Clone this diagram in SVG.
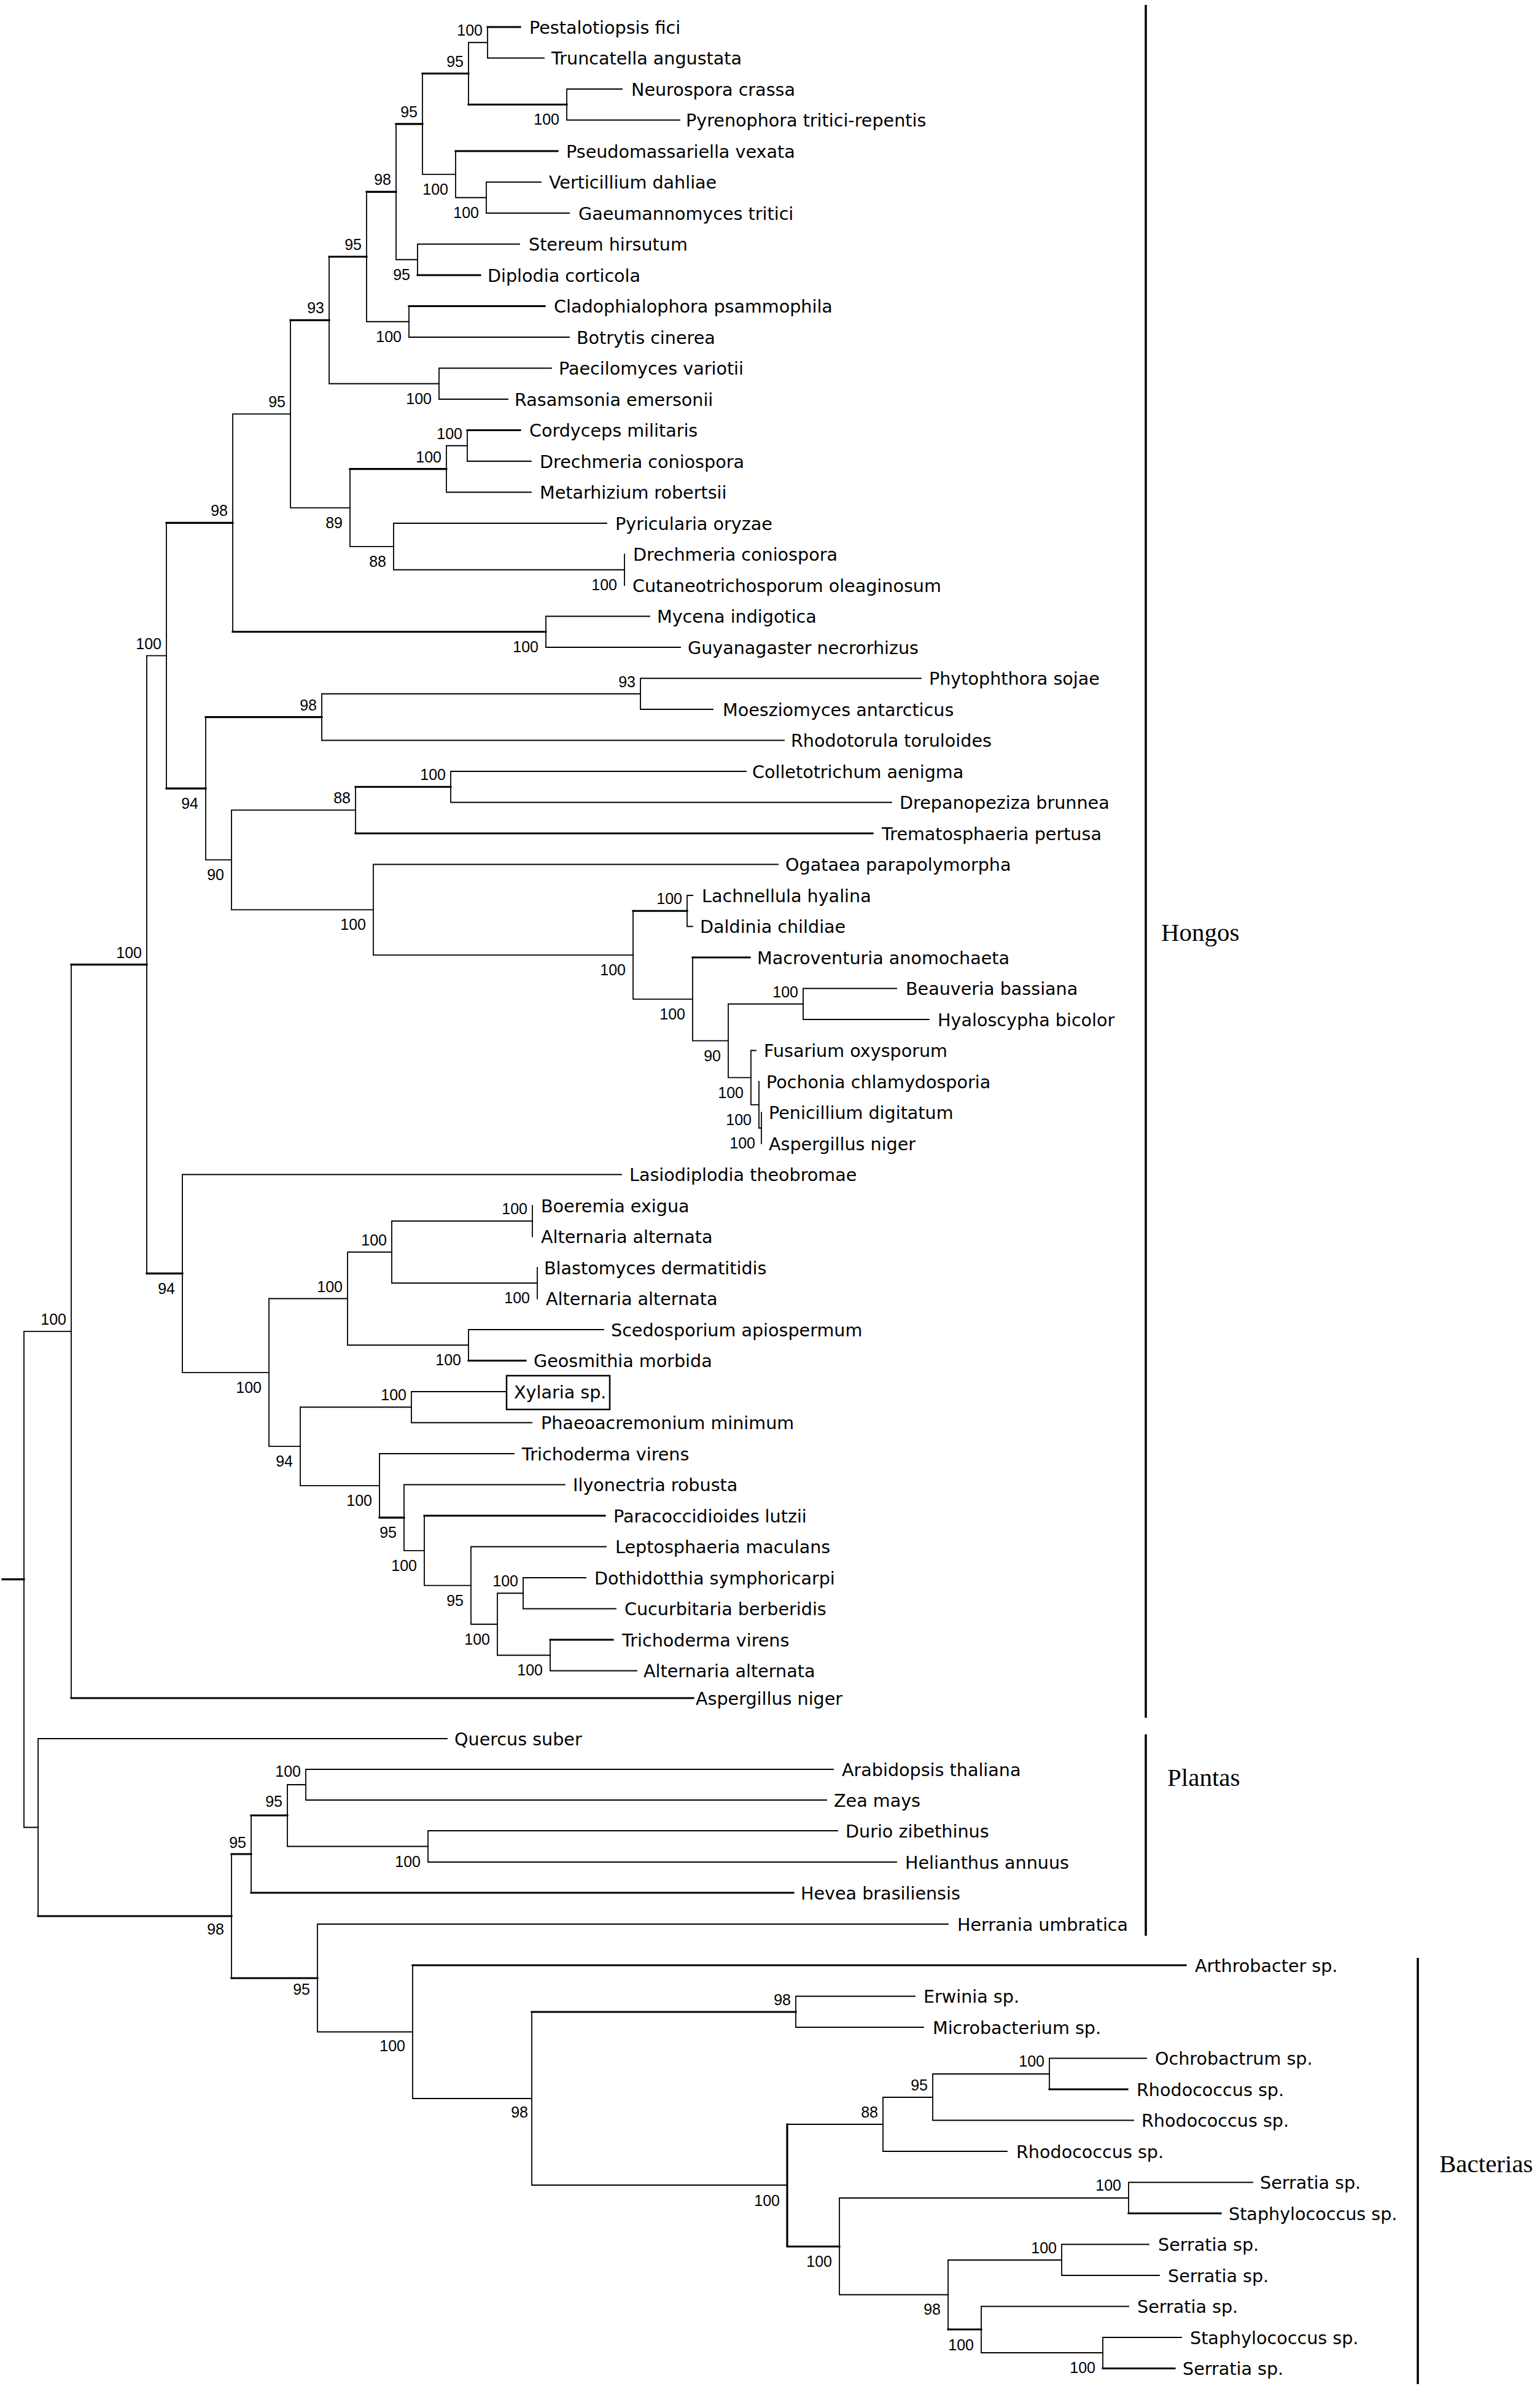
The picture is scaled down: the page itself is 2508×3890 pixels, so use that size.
<svg xmlns="http://www.w3.org/2000/svg" width="2508" height="3890" viewBox="0 0 2508 3890">
<style>
.l{stroke:#000;stroke-width:1.8;fill:none;stroke-linecap:square}
.b{stroke-width:3.2}
.bar{stroke:#000;stroke-width:3.5;fill:none}
.t{font-family:"DejaVu Sans",sans-serif;font-size:28.6px;fill:#000}
.s{font-family:"Liberation Sans",Arial,sans-serif;font-size:25px;fill:#000;text-anchor:end}
.g{font-family:"Liberation Serif","Times New Roman",serif;font-size:41px;fill:#000}
</style>
<rect width="2508" height="3890" fill="#fff"/>
<g id="connectors">
<path class="l b" d="M4 2571.7H39"/>
<path class="l" d="M39 2167.8V2975.5M39 2167.8H116M39 2975.5H62"/>
<path class="l" d="M116 1570.6V2765"/><path class="l b" d="M116 2765H1129M116 1570.6H239"/>
<path class="l" d="M239 1067.6V2073.7M239 1067.6H271"/><path class="l b" d="M239 2073.7H297"/>
<path class="l" d="M271 851.4V1283.9"/><path class="l b" d="M271 851.4H379M271 1283.9H335"/>
<path class="l" d="M379 674.1V1028.75M379 674.1H473"/><path class="l b" d="M379 1028.75H889"/>
<path class="l" d="M473 521.4V826.8M473 826.8H570"/><path class="l b" d="M473 521.4H536"/>
<path class="l" d="M536 418V624.75M536 624.75H715"/><path class="l b" d="M536 418H597"/>
<path class="l" d="M597 312.3V523.75M597 523.75H666"/><path class="l b" d="M597 312.3H645"/>
<path class="l" d="M645 201.8V422.75M645 422.75H680"/><path class="l b" d="M645 201.8H688"/>
<path class="l" d="M688 119.75V283.9M688 283.9H742"/><path class="l b" d="M688 119.75H763"/>
<path class="l" d="M763 69.25V170.25M763 69.25H794"/><path class="l b" d="M763 170.25H923"/>
<path class="l" d="M794 44V94.5M794 94.5H886"/><path class="l b" d="M794 44H847"/>
<path class="l" d="M923 145V195.5M923 145H1013M923 195.5H1107"/>
<path class="l" d="M742 246V321.75M742 321.75H792"/><path class="l b" d="M742 246H908"/>
<path class="l" d="M792 296.5V347M792 296.5H881M792 347H927"/>
<path class="l" d="M680 397.5V448M680 397.5H846"/><path class="l b" d="M680 448H782"/>
<path class="l" d="M666 498.5V549M666 549H927"/><path class="l b" d="M666 498.5H887"/>
<path class="l" d="M715 599.5V650M715 599.5H898M715 650H827"/>
<path class="l" d="M570 763.6V889.9M570 889.9H641"/><path class="l b" d="M570 763.6H727"/>
<path class="l" d="M727 725.75V801.5M727 725.75H761M727 801.5H865"/>
<path class="l" d="M761 700.5V751M761 751H865"/><path class="l b" d="M761 700.5H847"/>
<path class="l" d="M641 852V927.75M641 852H988M641 927.75H1017"/>
<path class="l" d="M1017 902.5V953"/>
<path class="l" d="M889 1003.5V1054M889 1003.5H1058M889 1054H1108"/>
<path class="l" d="M335 1167.6V1400.2M335 1400.2H377"/><path class="l b" d="M335 1167.6H524"/>
<path class="l" d="M524 1129.75V1205.5M524 1129.75H1043M524 1205.5H1277"/>
<path class="l" d="M1043 1104.5V1155M1043 1104.5H1500M1043 1155H1161"/>
<path class="l" d="M377 1319.1V1481.3M377 1319.1H579M377 1481.3H608"/>
<path class="l" d="M579 1281.25V1357"/><path class="l b" d="M579 1281.25H734M579 1357H1421"/>
<path class="l" d="M734 1256V1306.5M734 1256H1215M734 1306.5H1452"/>
<path class="l" d="M608 1407.5V1555.1M608 1407.5H1267M608 1555.1H1031"/>
<path class="l" d="M1031 1483.25V1626.9M1031 1626.9H1128"/><path class="l b" d="M1031 1483.25H1119"/>
<path class="l" d="M1119 1458V1508.5M1119 1458H1128M1119 1508.5H1128"/>
<path class="l" d="M1128 1559V1694.7M1128 1694.7H1186"/><path class="l b" d="M1128 1559H1221"/>
<path class="l" d="M1186 1634.75V1754.7M1186 1634.75H1308M1186 1754.7H1223"/>
<path class="l" d="M1308 1609.5V1660M1308 1609.5H1460M1308 1660H1513"/>
<path class="l" d="M1223 1710.5V1798.9M1223 1710.5H1231M1223 1798.9H1236"/>
<path class="l" d="M1236 1761V1836.75M1236 1836.75H1240"/>
<path class="l" d="M1240 1811.5V1862"/>
<path class="l" d="M297 1912.5V2234.9M297 1912.5H1012M297 2234.9H438"/>
<path class="l" d="M438 2114.5V2355.2M438 2114.5H566M438 2355.2H489"/>
<path class="l" d="M566 2038.75V2190.25M566 2038.75H638M566 2190.25H763"/>
<path class="l" d="M638 1988.25V2089.25M638 1988.25H867M638 2089.25H875"/>
<path class="l" d="M867 1963V2013.5"/>
<path class="l" d="M875 2064V2114.5"/>
<path class="l" d="M763 2165V2215.5M763 2165H983"/><path class="l b" d="M763 2215.5H856"/>
<path class="l" d="M489 2291.25V2419.1M489 2291.25H670M489 2419.1H618"/>
<path class="l" d="M670 2266V2316.5M670 2266H825M670 2316.5H866"/>
<path class="l" d="M618 2367V2471.2M618 2367H837"/><path class="l b" d="M618 2471.2H658"/>
<path class="l" d="M658 2417.5V2524.8M658 2417.5H920M658 2524.8H691"/>
<path class="l" d="M691 2468V2581.6M691 2581.6H767"/><path class="l b" d="M691 2468H985"/>
<path class="l" d="M767 2518.5V2644.75M767 2518.5H987M767 2644.75H810"/>
<path class="l" d="M810 2594.25V2695.25M810 2594.25H852M810 2695.25H896"/>
<path class="l" d="M852 2569V2619.5M852 2569H954M852 2619.5H1003"/>
<path class="l" d="M896 2670V2720.5M896 2720.5H1037"/><path class="l b" d="M896 2670H998"/>
<path class="l" d="M62 2831V3120M62 2831H728"/><path class="l b" d="M62 3120H377"/>
<path class="l" d="M377 3019V3221"/><path class="l b" d="M377 3019H409M377 3221H517"/>
<path class="l" d="M409 2956V3082"/><path class="l b" d="M409 2956H468M409 3082H1292"/>
<path class="l" d="M468 2906V3006.5M468 2906H498M468 3006.5H697"/>
<path class="l" d="M498 2881V2931M498 2881H1357M498 2931H1346"/>
<path class="l" d="M697 2981V3032M697 2981H1364M697 3032H1460"/>
<path class="l" d="M517 3133V3308.5M517 3133H1544M517 3308.5H672"/>
<path class="l" d="M672 3200V3417M672 3417H866"/><path class="l b" d="M672 3200H1931"/>
<path class="l" d="M866 3276V3558M866 3558H1282"/><path class="l b" d="M866 3276H1296"/>
<path class="l" d="M1296 3250.5V3301M1296 3250.5H1490M1296 3301H1504"/>
<path class="l" d="M1282 3459H1438"/><path class="l b" d="M1282 3459V3658M1282 3658H1367"/>
<path class="l" d="M1438 3415V3503M1438 3415H1519M1438 3503H1640"/>
<path class="l" d="M1519 3377V3452.5M1519 3377H1709M1519 3452.5H1846"/>
<path class="l" d="M1709 3351.5V3402M1709 3351.5H1867"/><path class="l b" d="M1709 3402H1836"/>
<path class="l" d="M1367 3579V3736.5M1367 3579H1838M1367 3736.5H1544"/>
<path class="l" d="M1838 3553.5V3604M1838 3553.5H2040"/><path class="l b" d="M1838 3604H1988"/>
<path class="l" d="M1544 3680V3793M1544 3680H1729"/><path class="l b" d="M1544 3793H1598"/>
<path class="l" d="M1729 3654.5V3705M1729 3654.5H1871M1729 3705H1888"/>
<path class="l" d="M1598 3755.5V3831M1598 3755.5H1838M1598 3831H1796"/>
<path class="l" d="M1796 3806V3856.5M1796 3806H1924"/><path class="l b" d="M1796 3856.5H1913"/>
</g>
<g id="tips">
<g id="tip1"><text class="t" x="862" y="54.5">Pestalotiopsis fici</text></g>
<g id="tip2"><text class="t" x="898" y="105">Truncatella angustata</text></g>
<g id="tip3"><text class="t" x="1028" y="155.5">Neurospora crassa</text></g>
<g id="tip4"><text class="t" x="1117" y="206">Pyrenophora tritici-repentis</text></g>
<g id="tip5"><text class="t" x="922" y="256.5">Pseudomassariella vexata</text></g>
<g id="tip6"><text class="t" x="894" y="307">Verticillium dahliae</text></g>
<g id="tip7"><text class="t" x="942" y="357.5">Gaeumannomyces tritici</text></g>
<g id="tip8"><text class="t" x="861" y="408">Stereum hirsutum</text></g>
<g id="tip9"><text class="t" x="794" y="458.5">Diplodia corticola</text></g>
<g id="tip10"><text class="t" x="902" y="509">Cladophialophora psammophila</text></g>
<g id="tip11"><text class="t" x="939" y="559.5">Botrytis cinerea</text></g>
<g id="tip12"><text class="t" x="910" y="610">Paecilomyces variotii</text></g>
<g id="tip13"><text class="t" x="838" y="660.5">Rasamsonia emersonii</text></g>
<g id="tip14"><text class="t" x="862" y="711">Cordyceps militaris</text></g>
<g id="tip15"><text class="t" x="879" y="761.5">Drechmeria coniospora</text></g>
<g id="tip16"><text class="t" x="879" y="812">Metarhizium robertsii</text></g>
<g id="tip17"><text class="t" x="1002" y="862.5">Pyricularia oryzae</text></g>
<g id="tip18"><text class="t" x="1031" y="913">Drechmeria coniospora</text></g>
<g id="tip19"><text class="t" x="1030" y="963.5">Cutaneotrichosporum oleaginosum</text></g>
<g id="tip20"><text class="t" x="1070" y="1014">Mycena indigotica</text></g>
<g id="tip21"><text class="t" x="1120" y="1064.5">Guyanagaster necrorhizus</text></g>
<g id="tip22"><text class="t" x="1513" y="1115">Phytophthora sojae</text></g>
<g id="tip23"><text class="t" x="1177" y="1165.5">Moesziomyces antarcticus</text></g>
<g id="tip24"><text class="t" x="1288" y="1216">Rhodotorula toruloides</text></g>
<g id="tip25"><text class="t" x="1225" y="1266.5">Colletotrichum aenigma</text></g>
<g id="tip26"><text class="t" x="1465" y="1317">Drepanopeziza brunnea</text></g>
<g id="tip27"><text class="t" x="1436" y="1367.5">Trematosphaeria pertusa</text></g>
<g id="tip28"><text class="t" x="1279" y="1418">Ogataea parapolymorpha</text></g>
<g id="tip29"><text class="t" x="1143" y="1468.5">Lachnellula hyalina</text></g>
<g id="tip30"><text class="t" x="1140" y="1519">Daldinia childiae</text></g>
<g id="tip31"><text class="t" x="1233" y="1569.5">Macroventuria anomochaeta</text></g>
<g id="tip32"><text class="t" x="1475" y="1620">Beauveria bassiana</text></g>
<g id="tip33"><text class="t" x="1527" y="1670.5">Hyaloscypha bicolor</text></g>
<g id="tip34"><text class="t" x="1244" y="1721">Fusarium oxysporum</text></g>
<g id="tip35"><text class="t" x="1248" y="1771.5">Pochonia chlamydosporia</text></g>
<g id="tip36"><text class="t" x="1252" y="1822">Penicillium digitatum</text></g>
<g id="tip37"><text class="t" x="1252" y="1872.5">Aspergillus niger</text></g>
<g id="tip38"><text class="t" x="1025" y="1923">Lasiodiplodia theobromae</text></g>
<g id="tip39"><text class="t" x="881" y="1973.5">Boeremia exigua</text></g>
<g id="tip40"><text class="t" x="881" y="2024">Alternaria alternata</text></g>
<g id="tip41"><text class="t" x="886" y="2074.5">Blastomyces dermatitidis</text></g>
<g id="tip42"><text class="t" x="889" y="2125">Alternaria alternata</text></g>
<g id="tip43"><text class="t" x="995" y="2175.5">Scedosporium apiospermum</text></g>
<g id="tip44"><text class="t" x="869" y="2226">Geosmithia morbida</text></g>
<g id="tip45"><rect x="825" y="2240" width="168" height="55" fill="none" stroke="#000" stroke-width="2.5"/><text class="t" x="837" y="2276.5">Xylaria sp.</text></g>
<g id="tip46"><text class="t" x="881" y="2327">Phaeoacremonium minimum</text></g>
<g id="tip47"><text class="t" x="850" y="2377.5">Trichoderma virens</text></g>
<g id="tip48"><text class="t" x="933" y="2428">Ilyonectria robusta</text></g>
<g id="tip49"><text class="t" x="999" y="2478.5">Paracoccidioides lutzii</text></g>
<g id="tip50"><text class="t" x="1002" y="2529">Leptosphaeria maculans</text></g>
<g id="tip51"><text class="t" x="968" y="2579.5">Dothidotthia symphoricarpi</text></g>
<g id="tip52"><text class="t" x="1017" y="2630">Cucurbitaria berberidis</text></g>
<g id="tip53"><text class="t" x="1013" y="2680.5">Trichoderma virens</text></g>
<g id="tip54"><text class="t" x="1048" y="2731">Alternaria alternata</text></g>
<g id="tip55"><text class="t" x="1133" y="2775.5">Aspergillus niger</text></g>
<g id="tip56"><text class="t" x="740" y="2841.5">Quercus suber</text></g>
<g id="tip57"><text class="t" x="1371" y="2891.5">Arabidopsis thaliana</text></g>
<g id="tip58"><text class="t" x="1358" y="2941.5">Zea mays</text></g>
<g id="tip59"><text class="t" x="1377" y="2991.5">Durio zibethinus</text></g>
<g id="tip60"><text class="t" x="1474" y="3042.5">Helianthus annuus</text></g>
<g id="tip61"><text class="t" x="1304" y="3092.5">Hevea brasiliensis</text></g>
<g id="tip62"><text class="t" x="1559" y="3143.5">Herrania umbratica</text></g>
<g id="tip63"><text class="t" x="1946" y="3210.5">Arthrobacter sp.</text></g>
<g id="tip64"><text class="t" x="1504" y="3261">Erwinia sp.</text></g>
<g id="tip65"><text class="t" x="1519" y="3311.5">Microbacterium sp.</text></g>
<g id="tip66"><text class="t" x="1881" y="3362">Ochrobactrum sp.</text></g>
<g id="tip67"><text class="t" x="1851" y="3412.5">Rhodococcus sp.</text></g>
<g id="tip68"><text class="t" x="1859" y="3463">Rhodococcus sp.</text></g>
<g id="tip69"><text class="t" x="1655" y="3513.5">Rhodococcus sp.</text></g>
<g id="tip70"><text class="t" x="2052" y="3564">Serratia sp.</text></g>
<g id="tip71"><text class="t" x="2001" y="3614.5">Staphylococcus sp.</text></g>
<g id="tip72"><text class="t" x="1886" y="3665">Serratia sp.</text></g>
<g id="tip73"><text class="t" x="1902" y="3715.5">Serratia sp.</text></g>
<g id="tip74"><text class="t" x="1852" y="3766">Serratia sp.</text></g>
<g id="tip75"><text class="t" x="1938" y="3816.5">Staphylococcus sp.</text></g>
<g id="tip76"><text class="t" x="1926" y="3867">Serratia sp.</text></g>
</g>
<g id="support">
<g id="n794"><text class="s" x="786" y="58">100</text></g>
<g id="n763"><text class="s" x="755" y="109">95</text></g>
<g id="n923"><text class="s" x="911" y="203">100</text></g>
<g id="n688"><text class="s" x="680" y="191">95</text></g>
<g id="n742"><text class="s" x="730" y="317">100</text></g>
<g id="n792"><text class="s" x="780" y="355">100</text></g>
<g id="n645"><text class="s" x="637" y="301">98</text></g>
<g id="n680"><text class="s" x="668" y="456">95</text></g>
<g id="n597"><text class="s" x="589" y="407">95</text></g>
<g id="n666"><text class="s" x="654" y="557">100</text></g>
<g id="n536"><text class="s" x="528" y="510">93</text></g>
<g id="n715"><text class="s" x="703" y="658">100</text></g>
<g id="n473"><text class="s" x="465" y="663">95</text></g>
<g id="n570"><text class="s" x="558" y="860">89</text></g>
<g id="n727"><text class="s" x="719" y="753">100</text></g>
<g id="n761"><text class="s" x="753" y="715">100</text></g>
<g id="n641"><text class="s" x="629" y="923">88</text></g>
<g id="n1017"><text class="s" x="1005" y="961">100</text></g>
<g id="n379"><text class="s" x="371" y="840">98</text></g>
<g id="n889"><text class="s" x="877" y="1062">100</text></g>
<g id="n271"><text class="s" x="263" y="1057">100</text></g>
<g id="n335"><text class="s" x="323" y="1317">94</text></g>
<g id="n524"><text class="s" x="516" y="1157">98</text></g>
<g id="n1043"><text class="s" x="1035" y="1119">93</text></g>
<g id="n377"><text class="s" x="365" y="1433">90</text></g>
<g id="n579"><text class="s" x="571" y="1308">88</text></g>
<g id="n734"><text class="s" x="726" y="1270">100</text></g>
<g id="n608"><text class="s" x="596" y="1514">100</text></g>
<g id="n1031"><text class="s" x="1019" y="1588">100</text></g>
<g id="n1119"><text class="s" x="1111" y="1472">100</text></g>
<g id="n1128"><text class="s" x="1116" y="1660">100</text></g>
<g id="n1186"><text class="s" x="1174" y="1728">90</text></g>
<g id="n1308"><text class="s" x="1300" y="1624">100</text></g>
<g id="n1223"><text class="s" x="1211" y="1788">100</text></g>
<g id="n1236"><text class="s" x="1224" y="1832">100</text></g>
<g id="n1240"><text class="s" x="1230" y="1870">100</text></g>
<g id="n239"><text class="s" x="231" y="1560">100</text></g>
<g id="n116"><text class="s" x="108" y="2157">100</text></g>
<g id="n297"><text class="s" x="285" y="2107">94</text></g>
<g id="n438"><text class="s" x="426" y="2268">100</text></g>
<g id="n566"><text class="s" x="558" y="2104">100</text></g>
<g id="n638"><text class="s" x="630" y="2028">100</text></g>
<g id="n867"><text class="s" x="859" y="1977">100</text></g>
<g id="n875"><text class="s" x="863" y="2122">100</text></g>
<g id="n763b"><text class="s" x="751" y="2223">100</text></g>
<g id="n489"><text class="s" x="477" y="2388">94</text></g>
<g id="n670"><text class="s" x="662" y="2280">100</text></g>
<g id="n618"><text class="s" x="606" y="2452">100</text></g>
<g id="n658"><text class="s" x="646" y="2504">95</text></g>
<g id="n691"><text class="s" x="679" y="2558">100</text></g>
<g id="n767"><text class="s" x="755" y="2615">95</text></g>
<g id="n810"><text class="s" x="798" y="2678">100</text></g>
<g id="n852"><text class="s" x="844" y="2583">100</text></g>
<g id="n896"><text class="s" x="884" y="2728">100</text></g>
<g id="n377p"><text class="s" x="365" y="3150">98</text></g>
<g id="n409"><text class="s" x="401" y="3009">95</text></g>
<g id="n468"><text class="s" x="460" y="2942">95</text></g>
<g id="n498"><text class="s" x="490" y="2893">100</text></g>
<g id="n697"><text class="s" x="685" y="3040">100</text></g>
<g id="n517"><text class="s" x="505" y="3248">95</text></g>
<g id="n672"><text class="s" x="660" y="3340">100</text></g>
<g id="n866"><text class="s" x="860" y="3448">98</text></g>
<g id="n1296"><text class="s" x="1288" y="3265">98</text></g>
<g id="n1282"><text class="s" x="1270" y="3592">100</text></g>
<g id="n1438"><text class="s" x="1430" y="3448">88</text></g>
<g id="n1519"><text class="s" x="1511" y="3404">95</text></g>
<g id="n1709"><text class="s" x="1701" y="3365">100</text></g>
<g id="n1367"><text class="s" x="1355" y="3691">100</text></g>
<g id="n1838"><text class="s" x="1826" y="3567">100</text></g>
<g id="n1544"><text class="s" x="1532" y="3769">98</text></g>
<g id="n1729"><text class="s" x="1721" y="3669">100</text></g>
<g id="n1598"><text class="s" x="1586" y="3827">100</text></g>
<g id="n1796"><text class="s" x="1784" y="3864">100</text></g>
</g>
<g id="groups">
<g id="hongos"><path class="bar" d="M1866 8V2797"/><text class="g" x="1891" y="1532">Hongos</text></g>
<g id="plantas"><path class="bar" d="M1866 2824V3152"/><text class="g" x="1901" y="2908">Plantas</text></g>
<g id="bacterias"><path class="bar" d="M2309 3188V3882"/><text class="g" x="2344" y="3537">Bacterias</text></g>
</g>
</svg>
